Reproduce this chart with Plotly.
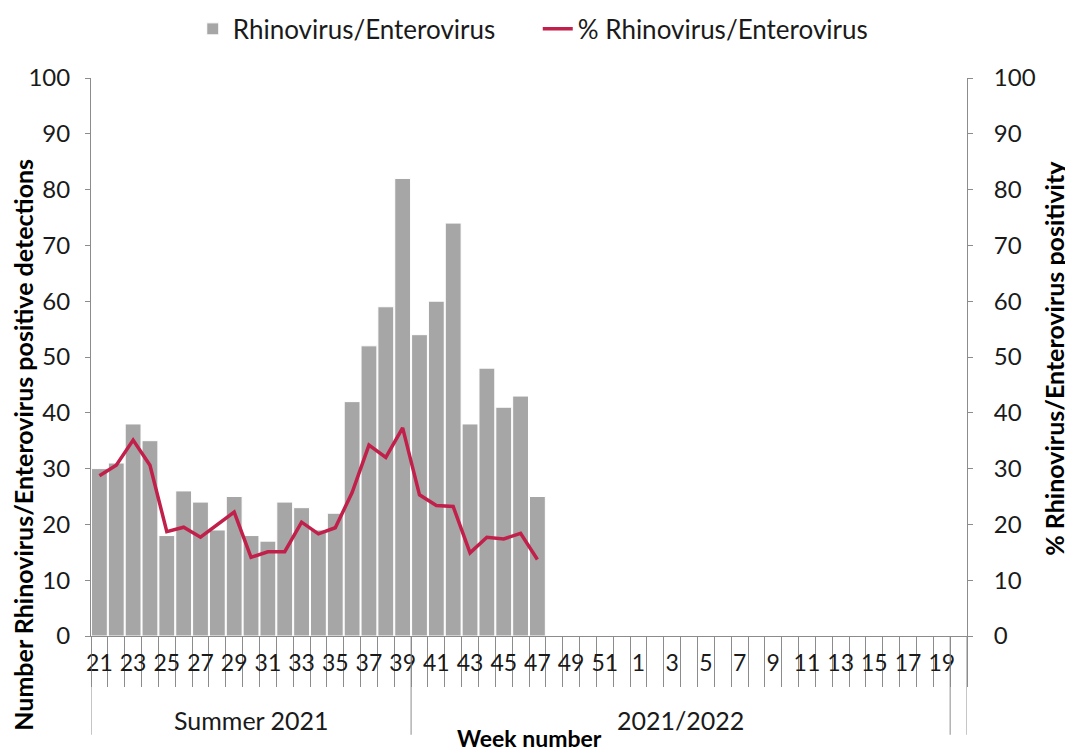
import plotly.graph_objects as go

# week categories: 21..52 (summer 2021 + start of season), 1..20 (2022)
weeks = list(range(21, 53)) + list(range(1, 21))
detections = [30, 31, 38, 35, 18, 26, 24, 19, 25, 18, 17, 24, 23, 19, 22, 42,
              52, 59, 82, 54, 60, 74, 38, 48, 41, 43, 25]
positivity = [28.7, 30.6, 35.1, 30.6, 18.7, 19.5, 17.7, 19.9, 22.2, 14.1, 15.1,
              15.1, 20.4, 18.3, 19.4, 25.7, 34.2, 32.0, 37.3, 25.3, 23.4, 23.2,
              14.9, 17.7, 17.4, 18.4, 13.7]
groups = ["Summer 2021", "2021/2022", ""]
group_sizes = [19, 32, 1]

FONT = "Lato"
AXIS_GREY = "#8c8c8c"

idx = list(range(len(weeks)))
n_obs = len(detections)

fig = go.Figure()
fig.add_trace(go.Bar(
    x=idx[:n_obs], y=detections, name="Rhinovirus/Enterovirus",
    marker=dict(color="#a6a6a6", line=dict(color="white", width=1)),
))
fig.add_trace(go.Scatter(
    x=idx[:n_obs], y=positivity, name="% Rhinovirus/Enterovirus",
    mode="lines", line=dict(color="#c0204a", width=3.5), yaxis="y2",
))

# group labels and dividers under the week labels
start = 0
bounds = [-0.5]
for g, size in zip(groups, group_sizes):
    centre = start + (size - 1) / 2
    if g:
        fig.add_annotation(x=centre, y=-0.15, xref="x", yref="paper", text=g,
                           yanchor="middle", showarrow=False,
                           font=dict(size=25, color="#1a1a1a"))
    start += size
    bounds.append(start - 0.5)
for b in bounds:
    fig.add_shape(type="line", xref="x", yref="paper", x0=b, x1=b, y0=0, y1=-0.177,
                  line=dict(color=AXIS_GREY, width=1))

fig.add_annotation(x=0.5, y=-0.183, xref="paper", yref="paper", text="<b>Week number</b>",
                   yanchor="middle", showarrow=False, font=dict(size=23, color="black"))
fig.add_annotation(x=-0.077, y=0.342, xref="paper", yref="paper",
                   text="<b>Number Rhinovirus/Enterovirus positive detections</b>",
                   textangle=-90, xanchor="center", yanchor="middle", showarrow=False,
                   font=dict(size=25, color="black"))
fig.add_annotation(x=1.10, y=0.498, xref="paper", yref="paper",
                   text="<b>% Rhinovirus/Enterovirus positivity</b>",
                   textangle=-90, xanchor="center", yanchor="middle", showarrow=False,
                   font=dict(size=25, color="black"))

fig.update_layout(
    width=1073, height=751,
    margin=dict(l=83, r=114, t=70, b=123, autoexpand=False),
    paper_bgcolor="white", plot_bgcolor="white",
    font=dict(family=FONT, size=24, color="#1a1a1a"),
    bargap=0.06,
    showlegend=True,
    legend=dict(orientation="h", x=0.51, xanchor="center", y=1.13, yanchor="top",
                font=dict(size=26), itemwidth=30, traceorder="normal",
                entrywidth=300, entrywidthmode="pixels"),
    xaxis=dict(
        range=[-0.5, len(weeks) - 0.5],
        tickmode="array", tickvals=idx[::2], ticktext=[str(w) for w in weeks[::2]],
        ticks="", showgrid=False, showline=True, linecolor=AXIS_GREY,
        tickfont=dict(size=23), ticklabelstandoff=6,
        minor=dict(tick0=-0.5, dtick=1, ticks="outside", ticklen=50,
                   tickcolor=AXIS_GREY, showgrid=False),
    ),
    yaxis=dict(
        range=[0, 100], dtick=10, ticks="outside", ticklen=5, tickcolor=AXIS_GREY,
        showgrid=False, showline=True, linecolor=AXIS_GREY, zeroline=False,
        ticklabelstandoff=10,
    ),
    yaxis2=dict(
        range=[0, 100], dtick=10, ticks="outside", ticklen=5, tickcolor=AXIS_GREY,
        overlaying="y", side="right", showgrid=False, showline=True,
        linecolor=AXIS_GREY, zeroline=False, ticklabelstandoff=16,
    ),
)

fig.write_html("out.html")
